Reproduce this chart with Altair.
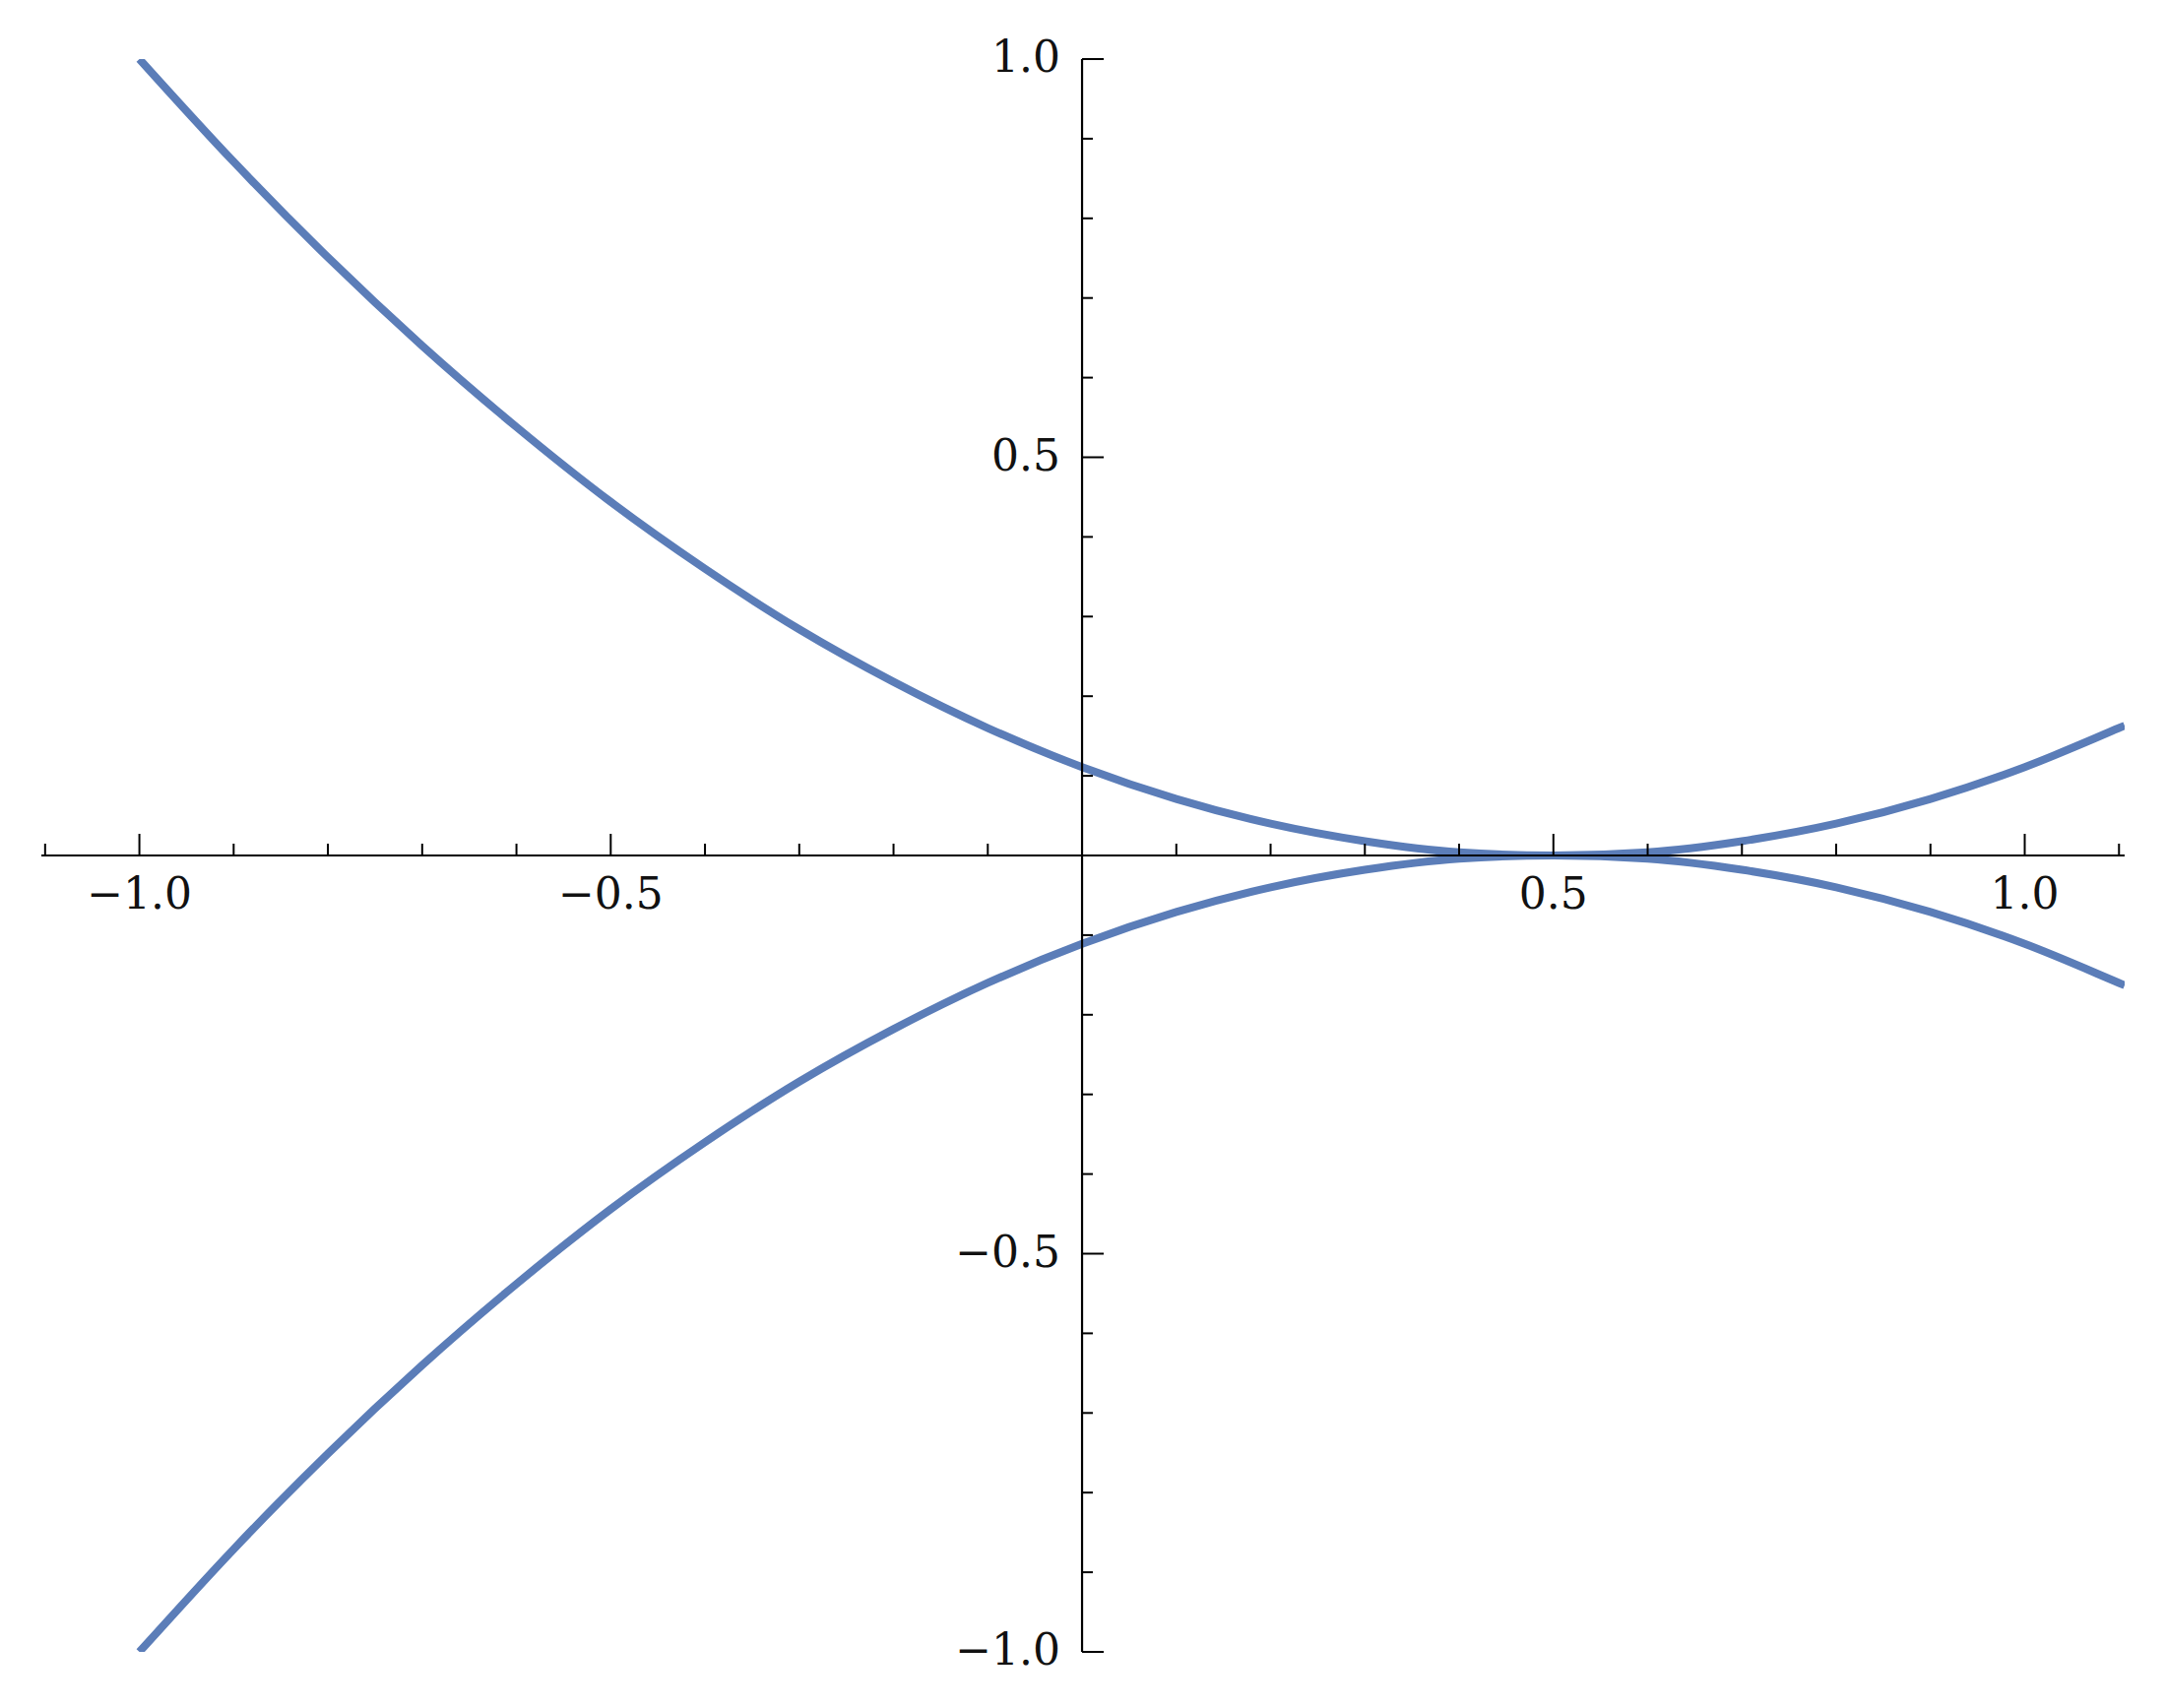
import altair as alt
import pandas as pd

# Curve samples
x_vals = [-1.0, -0.9, -0.8, -0.7, -0.6, -0.5, -0.4, -0.3, -0.2, -0.1, 0.0,
          0.1, 0.2, 0.3, 0.4, 0.5, 0.6, 0.7, 0.8, 0.9, 1.0, 1.1, 1.106]
upper_vals = [1.0, 0.871, 0.751, 0.64, 0.538, 0.444, 0.36, 0.284, 0.218, 0.16, 0.111,
              0.071, 0.04, 0.018, 0.004, 0.0, 0.004, 0.018, 0.04, 0.071, 0.111, 0.16, 0.163]
lower_vals = [-v for v in upper_vals]

x_major = [-1.0, -0.5, 0.5, 1.0]
x_major_labels = ["\u22121.0", "\u22120.5", "0.5", "1.0"]
x_minor = [-1.1, -0.9, -0.8, -0.7, -0.6, -0.4, -0.3, -0.2, -0.1,
           0.1, 0.2, 0.3, 0.4, 0.6, 0.7, 0.8, 0.9, 1.1]
y_major = [-1.0, -0.5, 0.5, 1.0]
y_major_labels = ["\u22121.0", "\u22120.5", "0.5", "1.0"]
y_minor = [-0.9, -0.8, -0.7, -0.6, -0.4, -0.3, -0.2, -0.1,
           0.1, 0.2, 0.3, 0.4, 0.6, 0.7, 0.8, 0.9]

X_DOMAIN = [-1.104, 1.106]
Y_DOMAIN = [-1.0, 1.0]
W, H = 2116, 1618
x_unit = W / (X_DOMAIN[1] - X_DOMAIN[0])
y_unit = H / (Y_DOMAIN[1] - Y_DOMAIN[0])

FONT = "DejaVu Serif"
FONT_SIZE = 44


def xs():
    return alt.Scale(domain=X_DOMAIN, nice=False, zero=False)


def ys():
    return alt.Scale(domain=Y_DOMAIN, nice=False, zero=False)


curves = pd.DataFrame(
    [{"x": x, "y": u, "c": "upper"} for x, u in zip(x_vals, upper_vals)]
    + [{"x": x, "y": l, "c": "lower"} for x, l in zip(x_vals, lower_vals)]
)

line = alt.Chart(curves).mark_line(
    color="#5b7db8", strokeWidth=8, interpolate="monotone", clip=True
).encode(
    x=alt.X("x:Q", scale=xs(), axis=None),
    y=alt.Y("y:Q", scale=ys(), axis=None),
    detail="c:N",
)

# axis lines
axes_df = pd.DataFrame([
    {"x": X_DOMAIN[0], "x2": X_DOMAIN[1], "y": 0.0, "y2": 0.0},
    {"x": 0.0, "x2": 0.0, "y": Y_DOMAIN[0], "y2": Y_DOMAIN[1]},
])
axes = alt.Chart(axes_df).mark_rule(color="black", strokeWidth=2.2).encode(
    x=alt.X("x:Q", scale=xs(), axis=None), x2="x2:Q",
    y=alt.Y("y:Q", scale=ys(), axis=None), y2="y2:Q",
)

# x ticks (pointing up)
xt = pd.DataFrame(
    [{"x": v, "y": 0.0, "y2": 22 / y_unit} for v in x_major]
    + [{"x": v, "y": 0.0, "y2": 12 / y_unit} for v in x_minor]
)
xticks = alt.Chart(xt).mark_rule(color="black", strokeWidth=2).encode(
    x=alt.X("x:Q", scale=xs(), axis=None),
    y=alt.Y("y:Q", scale=ys(), axis=None), y2="y2:Q",
)

# y ticks (pointing right)
yt = pd.DataFrame(
    [{"y": v, "x": 0.0, "x2": 22 / x_unit} for v in y_major]
    + [{"y": v, "x": 0.0, "x2": 11 / x_unit} for v in y_minor]
)
yticks = alt.Chart(yt).mark_rule(color="black", strokeWidth=2).encode(
    y=alt.Y("y:Q", scale=ys(), axis=None),
    x=alt.X("x:Q", scale=xs(), axis=None), x2="x2:Q",
)

xl = pd.DataFrame({"v": x_major, "t": x_major_labels, "z": [0.0] * len(x_major)})
xlabels = alt.Chart(xl).mark_text(
    font=FONT, fontSize=FONT_SIZE, color="#111111", baseline="middle",
    align="center", dy=41
).encode(
    x=alt.X("v:Q", scale=xs(), axis=None),
    y=alt.Y("z:Q", scale=ys(), axis=None),
    text="t:N",
)

yl = pd.DataFrame({"v": y_major, "t": y_major_labels, "z": [0.0] * len(y_major)})
ylabels = alt.Chart(yl).mark_text(
    font=FONT, fontSize=FONT_SIZE, color="#111111", baseline="middle",
    align="right", dx=-22
).encode(
    y=alt.Y("v:Q", scale=ys(), axis=None),
    x=alt.X("z:Q", scale=xs(), axis=None),
    text="t:N",
)

chart = alt.layer(line, axes, xticks, yticks, xlabels, ylabels).properties(
    width=W, height=H,
    autosize=alt.AutoSizeParams(type="none"),
    padding={"left": 34, "top": 52, "right": 30, "bottom": 40},
    background="white",
).configure_view(stroke=None)

chart.save("out.html", embed_options={"renderer": "svg", "actions": False})
